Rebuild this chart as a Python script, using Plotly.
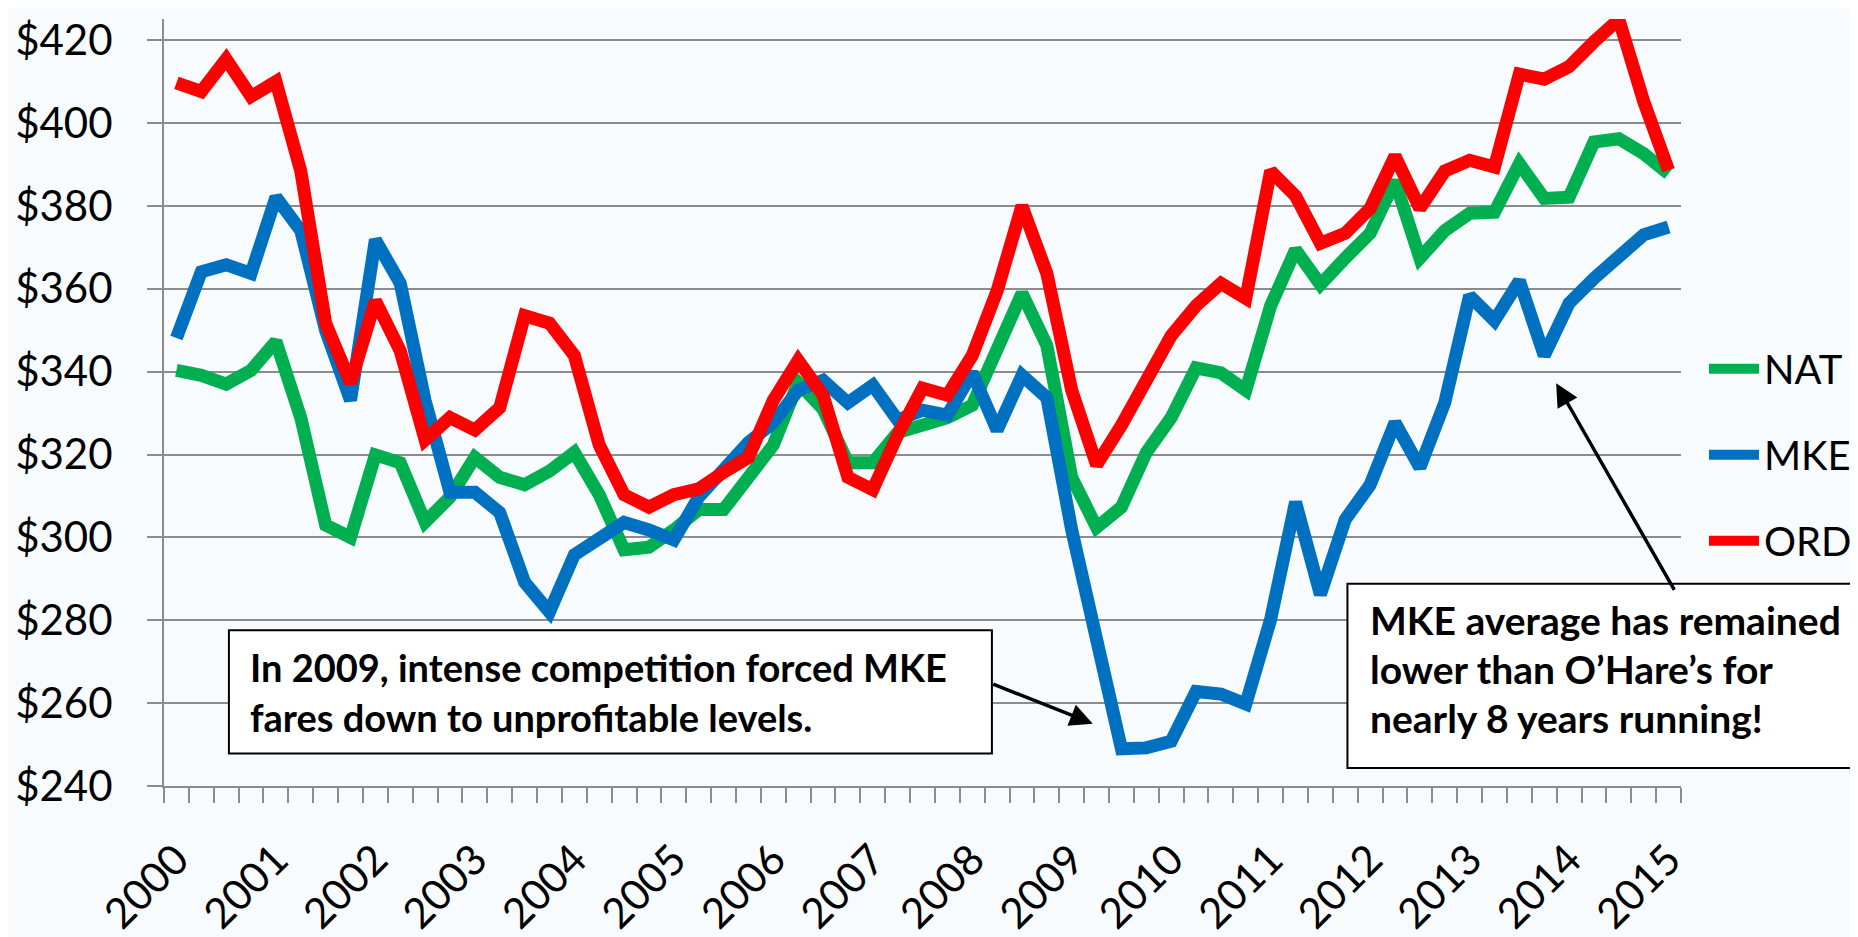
import plotly.graph_objects as go

# ---------------- data (quarterly, 2000 Q1 .. 2015 Q1) ----------------
years = [str(y) for y in range(2000, 2016)]
quarters = list(range(61))

nat = [340.3, 339.1, 337.0, 340.3, 347.3, 328.9, 303.0, 300.0, 319.9, 318.0,
       303.7, 309.7, 319.3, 314.5, 312.7, 316.0, 320.5, 310.3, 297.0, 297.6,
       301.8, 306.7, 306.7, 313.9, 322.3, 337.3, 331.0, 318.0, 318.0, 325.3,
       327.0, 328.9, 331.9, 346.3, 358.9, 346.3, 314.5, 302.4, 307.3, 320.5,
       328.9, 340.9, 339.7, 335.5, 355.9, 369.4, 361.0, 367.4, 373.4, 386.0,
       367.4, 374.0, 378.2, 378.5, 390.2, 381.8, 382.1, 395.4, 396.2, 392.6,
       387.8]

mke = [348.1, 364.1, 365.8, 363.7, 382.1, 374.0, 349.9, 333.1, 371.8, 361.3,
       333.0, 310.9, 310.9, 306.0, 289.2, 282.0, 295.8, 299.4, 303.6, 301.8,
       299.4, 309.7, 316.3, 322.9, 327.7, 335.5, 337.9, 332.5, 336.7, 328.3,
       330.7, 329.5, 339.7, 325.9, 339.1, 333.7, 301.8, 274.2, 249.0, 249.2,
       250.8, 262.8, 262.2, 259.8, 280.2, 308.5, 286.2, 304.3, 312.7, 327.7,
       316.9, 332.5, 358.3, 352.3, 361.9, 343.9, 356.5, 362.5, 367.4, 373.0,
       374.9]

ord_ = [409.7, 407.6, 415.4, 406.4, 410.0, 388.4, 351.7, 337.3, 357.1, 345.0,
        323.5, 328.9, 325.9, 331.3, 353.5, 351.7, 343.9, 322.3, 310.3, 307.3,
        310.3, 311.7, 315.7, 319.3, 333.1, 342.7, 334.3, 314.5, 311.5, 324.7,
        336.0, 334.3, 343.9, 359.5, 380.0, 363.7, 335.5, 317.5, 327.1, 338.5,
        348.7, 355.9, 361.3, 357.7, 388.4, 382.4, 371.0, 373.4, 379.4, 392.0,
        379.4, 388.4, 391.0, 389.4, 411.8, 410.6, 413.6, 419.6, 425.0, 405.2,
        388.6]

series_names = ["NAT", "MKE", "ORD"]
series_colors = ["#00B050", "#0070C0", "#FF0000"]

note1 = ["In 2009, intense competition forced MKE",
         "fares down to unprofitable levels."]
note2 = ["MKE average has remained",
         "lower than O\u2019Hare\u2019s for",
         "nearly 8 years running!"]

# ---------------- layout geometry (pixels) ----------------
W, H = 1858, 937
PL, PR, PT, PB = 154, 1673, 7, 802.7


def px(x):
    return (x - PL) / (PR - PL)


def py(y):
    return (PB - y) / (PB - PT)


FONT = "Lato, 'Open Sans', sans-serif"
GRID = "#8C8C8C"

fig = go.Figure()
for name, vals, col in zip(series_names, [nat, mke, ord_], series_colors):
    fig.add_trace(go.Scatter(
        x=quarters, y=vals, mode="lines", name=name, legendgroup=name,
        line=dict(color=col, width=13),
    ))

fig.update_layout(
    width=W, height=H,
    margin=dict(l=PL, r=W - PR, t=PT, b=H - PB),
    paper_bgcolor="#F8FBFE", plot_bgcolor="#F8FBFE",
    font=dict(family=FONT, size=42, color="black"),
    showlegend=True,
    legend=dict(x=px(1696), y=py(336), xanchor="left", yanchor="top",
                bgcolor="rgba(0,0,0,0)", font=dict(size=40),
                tracegroupgap=31, itemwidth=50),
)

fig.update_xaxes(
    range=[-0.5, 60.5], tickmode="array",
    tickvals=quarters[::4], ticktext=years,
    tickangle=-45, ticks="", showgrid=False, zeroline=False,
    showline=True, linecolor=GRID, linewidth=2,
    ticklabelstandoff=30,
    minor=dict(tickmode="linear", tick0=-0.5, dtick=1, ticks="outside",
               ticklen=15, tickwidth=2, tickcolor=GRID, showgrid=False),
    tickfont=dict(size=42),
)
fig.update_yaxes(
    range=[240, 425.1], tickmode="linear", tick0=240, dtick=20,
    tickprefix="$", ticks="outside", ticklen=15, tickwidth=2, tickcolor=GRID,
    showgrid=True, gridcolor=GRID, gridwidth=2, zeroline=False,
    showline=True, linecolor=GRID, linewidth=2,
    ticklabelstandoff=26, tickfont=dict(size=42),
)

# ---------------- callout boxes ----------------
shapes = []
for (x0, x1, y0, y1) in [(219, 983, 641, 769), (1339, 1851, 593, 784)]:
    shapes.append(dict(type="rect", xref="paper", yref="paper",
                       x0=px(x0), x1=px(x1), y0=py(y1), y1=py(y0),
                       fillcolor="white", line=dict(color="black", width=2),
                       layer="above"))
fig.update_layout(shapes=shapes)

annos = []
for txt, yy in zip(note1, [679, 731]):
    annos.append(dict(text="<b>%s</b>" % txt, xref="paper", yref="paper",
                      x=px(238), y=py(yy), xanchor="left", yanchor="middle",
                      showarrow=False, font=dict(size=38, color="black")))
for txt, yy in zip(note2, [630, 681, 732]):
    annos.append(dict(text="<b>%s</b>" % txt, xref="paper", yref="paper",
                      x=px(1360), y=py(yy), xanchor="left", yanchor="middle",
                      showarrow=False, font=dict(size=39, color="black")))
# arrows
for (hx, hy, tx, ty) in [(1084, 738, 983, 698), (1548, 385, 1667, 593)]:
    annos.append(dict(text="", xref="paper", yref="paper", x=px(hx), y=py(hy),
                      ax=tx - hx, ay=ty - hy, showarrow=True, arrowhead=2,
                      arrowsize=1.3, arrowwidth=3.5, arrowcolor="black",
                      standoff=0))
fig.update_layout(annotations=annos)

fig.write_html("out.html")
